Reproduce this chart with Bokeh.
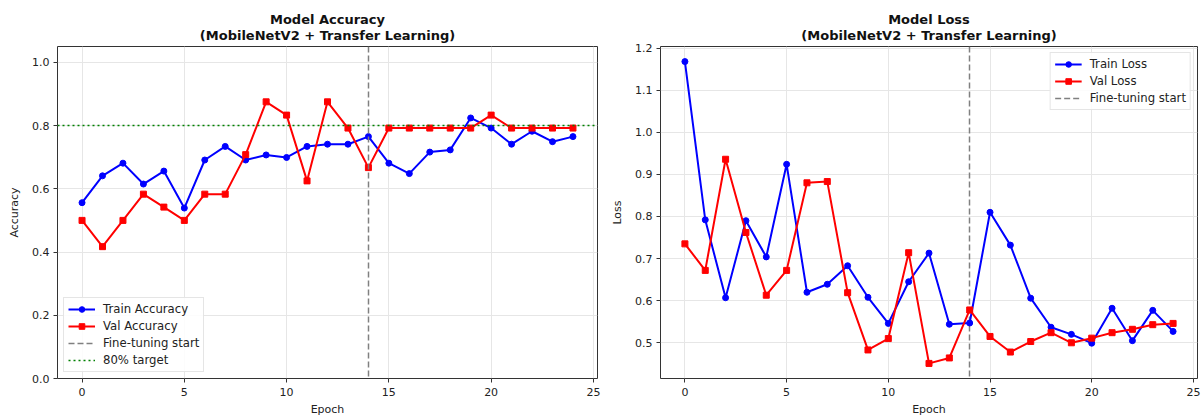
from bokeh.plotting import figure
from bokeh.layouts import row
from bokeh.models import FixedTicker, NumeralTickFormatter, Range1d
from bokeh.embed import file_html
from bokeh.resources import INLINE

epochs = list(range(25))
train_acc = [0.556, 0.641, 0.681, 0.615, 0.656, 0.539, 0.691, 0.734, 0.691, 0.707,
             0.699, 0.734, 0.741, 0.741, 0.765, 0.681, 0.648, 0.716, 0.723, 0.824,
             0.792, 0.741, 0.782, 0.749, 0.765]
val_acc = [0.500, 0.417, 0.500, 0.583, 0.542, 0.500, 0.583, 0.583, 0.708, 0.875,
           0.833, 0.625, 0.875, 0.792, 0.667, 0.792, 0.792, 0.792, 0.792, 0.792,
           0.833, 0.792, 0.792, 0.792, 0.792]
train_loss = [1.168, 0.792, 0.607, 0.790, 0.704, 0.924, 0.620, 0.639, 0.683, 0.608,
              0.546, 0.645, 0.713, 0.544, 0.547, 0.810, 0.732, 0.606, 0.537, 0.520,
              0.499, 0.582, 0.505, 0.577, 0.527]
val_loss = [0.735, 0.672, 0.936, 0.762, 0.613, 0.672, 0.880, 0.883, 0.619, 0.483,
            0.510, 0.714, 0.451, 0.464, 0.578, 0.515, 0.478, 0.503, 0.524, 0.500,
            0.511, 0.524, 0.532, 0.543, 0.546]
fine_tune_epoch = [14]
target_acc = [0.8]
x_ticks = [0, 5, 10, 15, 20, 25]
acc_ticks = [0.0, 0.2, 0.4, 0.6, 0.8, 1.0]
loss_ticks = [0.5, 0.6, 0.7, 0.8, 0.9, 1.0, 1.1, 1.2]

FONT = "DejaVu Sans"
BLUE = "#0000ff"
RED = "#ff0000"
H = 418


def base_fig(width, bl, br, y_range, yticks, ylabel, title):
    p = figure(width=width, height=H, x_range=Range1d(-1.2, 25.2), y_range=y_range,
               output_backend="svg", toolbar_location=None,
               min_border_left=bl, min_border_right=br, min_border_top=46, min_border_bottom=0,
               title=title)
    p.title.text_font = FONT
    p.title.text_font_size = "13px"
    p.title.text_font_style = "bold"
    p.title.align = "center"
    p.title.text_align = "center"
    p.title.text_line_height = 1.05
    p.title.text_color = "#111111"
    p.title.standoff = 8
    p.outline_line_color = "#333333"
    p.outline_line_width = 1
    p.background_fill_color = "white"
    p.border_fill_color = "white"
    for ax in (p.xaxis, p.yaxis):
        ax.axis_line_color = None
        ax.major_tick_in = 0
        ax.major_tick_out = 4
        ax.major_tick_line_color = "#333333"
        ax.minor_tick_line_color = None
        ax.major_label_text_font = FONT
        ax.major_label_text_font_size = "11px"
        ax.major_label_text_color = "#222222"
        ax.axis_label_text_font = FONT
        ax.axis_label_text_font_size = "11px"
        ax.axis_label_text_font_style = "normal"
        ax.axis_label_text_color = "#222222"
    p.xaxis.major_label_standoff = 5
    p.xaxis.axis_label_standoff = 4
    p.yaxis.major_label_standoff = 4
    p.yaxis.axis_label_standoff = 8
    p.xaxis.ticker = FixedTicker(ticks=x_ticks)
    p.yaxis.ticker = FixedTicker(ticks=yticks)
    p.yaxis.formatter = NumeralTickFormatter(format="0.0")
    p.xaxis.axis_label = "Epoch"
    p.yaxis.axis_label = ylabel
    p.grid.grid_line_color = "#e6e6e6"
    p.grid.grid_line_width = 1
    return p


# Left: accuracy
p1 = base_fig(608, 57, 11, Range1d(0, 1.05), acc_ticks, "Accuracy",
              "Model Accuracy\n(MobileNetV2 + Transfer Learning)")
p1.line(epochs, train_acc, color=BLUE, line_width=2, legend_label="Train Accuracy")
p1.scatter(epochs, train_acc, marker="circle", size=6, color=BLUE, legend_label="Train Accuracy")
p1.line(epochs, val_acc, color=RED, line_width=2, legend_label="Val Accuracy")
p1.scatter(epochs, val_acc, marker="square", size=6, color=RED, legend_label="Val Accuracy")
p1.vspan(x=fine_tune_epoch, line_color="gray", line_dash="6 3", line_width=1.5,
         legend_label="Fine-tuning start")
p1.hspan(y=target_acc, line_color="green", line_dash="2 3", line_width=1.5,
         legend_label="80% target")
p1.legend.location = "bottom_left"

# Right: loss
lo = min(min(train_loss), min(val_loss))
hi = max(max(train_loss), max(val_loss))
pad = (hi - lo) * 0.05
p2 = base_fig(595, 50, 6, Range1d(lo - pad, hi + pad), loss_ticks, "Loss",
              "Model Loss\n(MobileNetV2 + Transfer Learning)")
p2.vspan(x=fine_tune_epoch, line_color="gray", line_dash="6 3", line_width=1.5,
         legend_label="Fine-tuning start")
p2.line(epochs, train_loss, color=BLUE, line_width=2, legend_label="Train Loss")
p2.scatter(epochs, train_loss, marker="circle", size=6, color=BLUE, legend_label="Train Loss")
p2.line(epochs, val_loss, color=RED, line_width=2, legend_label="Val Loss")
p2.scatter(epochs, val_loss, marker="square", size=6, color=RED, legend_label="Val Loss")
p2.legend.location = "top_right"

# legend order: train, val, fine-tuning
items = p2.legend[0].items
p2.legend[0].items = [items[1], items[2], items[0]]

for p in (p1, p2):
    lg = p.legend[0]
    lg.label_text_font = FONT
    lg.label_text_font_size = "11.7px"
    lg.label_text_color = "#222222"
    lg.label_height = 14
    lg.glyph_height = 14
    lg.glyph_width = 27
    lg.label_standoff = 8
    lg.spacing = 3
    lg.padding = 4
    lg.margin = 6
    lg.border_line_color = "#cccccc"
    lg.background_fill_alpha = 0.85

layout = row(p1, p2)
open("out.html", "w").write(file_html(layout, INLINE))
